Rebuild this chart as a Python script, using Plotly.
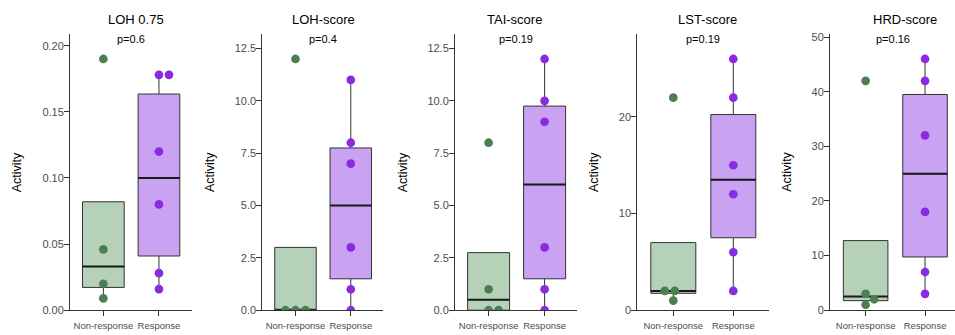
import numpy as np
import plotly.graph_objects as go

# ---------------- data ----------------
panel_titles = ["LOH 0.75", "LOH-score", "TAI-score", "LST-score", "HRD-score"]
p_labels = ["p=0.6", "p=0.4", "p=0.19", "p=0.19", "p=0.16"]
groups = ["Non-response", "Response"]

loh075_non = [0.19, 0.046, 0.02, 0.009]
loh075_resp = [0.178, 0.178, 0.12, 0.08, 0.028, 0.016]
loh_non = [12, 0, 0, 0]
loh_resp = [11, 8, 7, 3, 1, 0]
tai_non = [8, 1, 0, 0]
tai_resp = [12, 10, 9, 3, 1, 0]
lst_non = [22, 2, 2, 1]
lst_resp = [26, 22, 15, 12, 6, 2]
hrd_non = [42, 3, 2, 1]
hrd_resp = [46, 42, 32, 18, 7, 3]

y_dtick = [0.05, 2.5, 2.5, 10, 10]
y_format = [".2f", ".1f", ".1f", "d", "d"]

panel_data = [
    (loh075_non, loh075_resp),
    (loh_non, loh_resp),
    (tai_non, tai_resp),
    (lst_non, lst_resp),
    (hrd_non, hrd_resp),
]

# ---------------- layout constants (pixels) ----------------
W, H = 955, 335
panel_left = [70, 262.3, 455, 637.3, 830]
panel_right = [191.7, 383.3, 576.7, 769.3, 955]
unit_px = [55.6, 55.3, 56.0, 60.0, 59.4]     # px per category step
plot_top, plot_bottom = 31.7, 315.7
title_x = [136, 323, 514.5, 707, 905]
title_y = 16.7
ylab_x = [17.3, 210, 403.3, 594, 786.7]

FONT = "Liberation Sans, Arial, Helvetica, sans-serif"
box_line = "#333333"
fills = ["#b5d2b8", "#c9a2f2"]
dots = ["#4b7f52", "#8a2be2"]
DOT = 8.7
BOX_W = 0.75


def stats(v):
    a = np.array(sorted(v), dtype=float)
    q1, med, q3 = np.percentile(a, [25, 50, 75])
    iqr = q3 - q1
    lo = a[a >= q1 - 1.5 * iqr].min()
    hi = a[a <= q3 + 1.5 * iqr].max()
    return q1, med, q3, min(lo, q1), max(hi, q3)


def swarm(values, ypx_per_unit, dist=10.0):
    """ascending-priority beeswarm, returns x offsets in px"""
    order = np.argsort(values, kind="stable")
    placed = []
    offs = [0.0] * len(values)
    for idx in order:
        yp = values[idx] * ypx_per_unit
        k = 0
        while True:
            cand = (k // 2 + (k % 2)) * 0.5 * (1 if k % 2 == 1 else -1) if k else 0.0
            ok = all((cand - px) ** 2 + (yp - py) ** 2 >= (dist - 1e-6) ** 2 for px, py in placed)
            if ok:
                break
            k += 1
        placed.append((cand, yp))
        offs[idx] = cand
    return offs


fig = go.Figure()
layout = dict(
    width=W, height=H, margin=dict(l=0, r=0, t=0, b=0),
    paper_bgcolor="white", plot_bgcolor="white", showlegend=False,
    font=dict(family=FONT, color="#000000"),
    annotations=[],
)

y_dom = [(H - plot_bottom) / H, (H - plot_top) / H]

for i, (non, resp) in enumerate(panel_data):
    n = i + 1
    xa = "x" if n == 1 else f"x{n}"
    ya = "y" if n == 1 else f"y{n}"
    ymax = 1.1 * max(max(non), max(resp))
    ypx = (plot_bottom - plot_top) / ymax
    xr_right = -0.6 + (panel_right[i] - panel_left[i]) / unit_px[i]

    for g, vals in enumerate((non, resp)):
        q1, med, q3, lo, hi = stats(vals)
        fig.add_trace(go.Box(
            x=[g], q1=[q1], median=[med], q3=[q3], lowerfence=[lo], upperfence=[hi],
            width=BOX_W, fillcolor=fills[g], line=dict(color=box_line, width=1),
            whiskerwidth=0, boxpoints=False, orientation="v",
            xaxis=xa, yaxis=ya, hoverinfo="skip",
        ))
        fig.add_trace(go.Scatter(
            x=[g - BOX_W / 2, g + BOX_W / 2], y=[med, med], mode="lines",
            line=dict(color="#1a1a1a", width=2), xaxis=xa, yaxis=ya, hoverinfo="skip",
        ))
        offs = swarm(vals, ypx)
        fig.add_trace(go.Scatter(
            x=[g + o / unit_px[i] for o in offs], y=vals, mode="markers",
            marker=dict(size=DOT, color=dots[g], line=dict(width=0)),
            xaxis=xa, yaxis=ya, cliponaxis=True, hoverinfo="skip",
        ))

    xkey = "xaxis" if n == 1 else f"xaxis{n}"
    ykey = "yaxis" if n == 1 else f"yaxis{n}"
    layout[xkey] = dict(
        domain=[panel_left[i] / W, min(panel_right[i] / W, 1.0)], anchor=ya,
        range=[-0.6, xr_right], tickvals=[0, 1], ticktext=groups,
        showline=True, linecolor="#333333", linewidth=1, ticks="outside",
        ticklen=5, tickcolor="#333333", showgrid=False, zeroline=False,
        tickfont=dict(size=9.5, color="#4d4d4d", family=FONT), fixedrange=True,
        ticklabelstandoff=1,
    )
    layout[ykey] = dict(
        domain=y_dom, anchor=xa, range=[0, ymax], dtick=y_dtick[i], tick0=0,
        tickformat=y_format[i], showline=True, linecolor="#333333", linewidth=1,
        ticks="outside", ticklen=5, tickcolor="#333333", showgrid=False,
        zeroline=False, tickfont=dict(size=11, color="#4d4d4d", family=FONT),
        ticklabelstandoff=-2, fixedrange=True,
    )
    layout["annotations"] += [
        dict(text=panel_titles[i], x=title_x[i] / W, y=(H - title_y) / H,
             xref="paper", yref="paper", showarrow=False, xanchor="center",
             yanchor="middle", font=dict(size=13, color="#000000", family=FONT)),
        dict(text=p_labels[i], x=0.5, y=0.982, xref=f"{xa} domain", yref=f"{ya} domain",
             showarrow=False, xanchor="center", yanchor="middle",
             font=dict(size=11, color="#000000", family=FONT)),
        dict(text="Activity", x=ylab_x[i] / W, y=(H - (plot_top + plot_bottom) / 2) / H,
             xref="paper", yref="paper", showarrow=False, textangle=-90,
             xanchor="center", yanchor="middle",
             font=dict(size=12.5, color="#000000", family=FONT)),
    ]

fig.update_layout(**layout)
fig.write_html(
    "out.html",
    config={"displayModeBar": False, "staticPlot": True},
    post_script="document.body.style.margin='0';document.body.style.overflow='hidden';",
)
